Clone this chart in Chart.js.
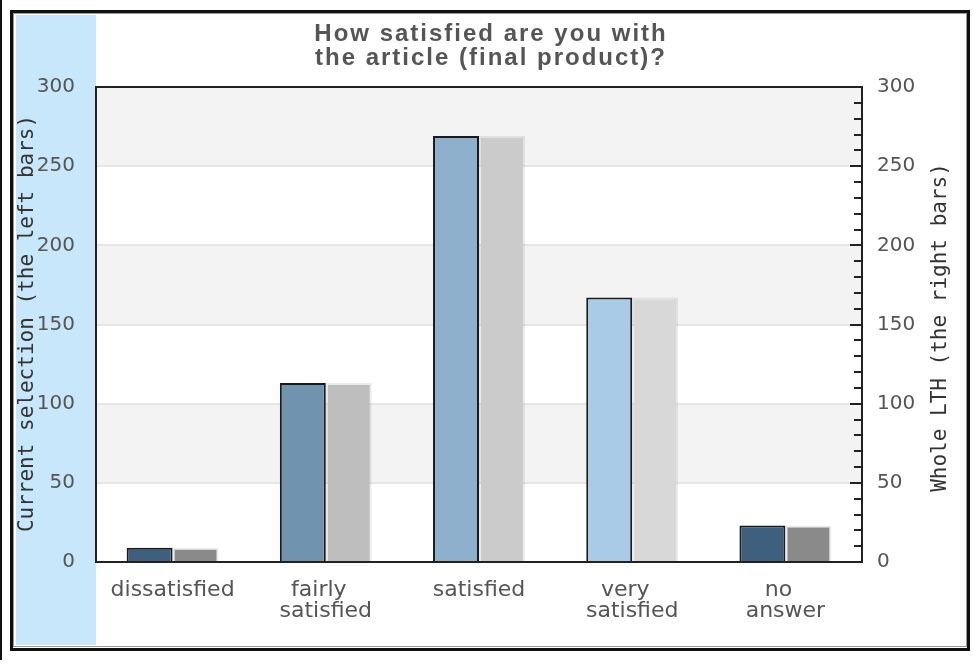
<!DOCTYPE html>
<html>
<head>
<meta charset="utf-8">
<script src="https://cdn.jsdelivr.net/npm/chart.js@4/dist/chart.umd.min.js"></script>
<style>
  html, body { margin: 0; padding: 0; background: #fff; }
  #satisfaction { position: absolute; left: 0; top: 0; }
</style>
</head>
<body>
<canvas id="satisfaction" width="973" height="666"></canvas>
<script>
const titleLines = ['How satisfied are you with', 'the article (final product)?'];
const categories = ['dissatisfied', 'fairly satisfied', 'satisfied', 'very satisfied', 'no answer'];
const currentSelection = [9, 113, 269, 167, 23];
const wholeLTH = [9, 113, 269, 167, 23];
const yTicks = [0, 50, 100, 150, 200, 250, 300];
const leftTitle = 'Current selection (the left bars)';
const rightTitle = 'Whole LTH (the right bars)';

const leftColours = ['#3f5f7e', '#7093b0', '#8eb0cc', '#a9cbe7', '#3f5f7e'];
const rightColours = ['#8a8a8a', '#bebebe', '#cbcbcb', '#d8d8d8', '#8a8a8a'];

// background strip, bands, frame, inner ticks and titles
const decor = {
  id: 'decor',
  beforeDraw(chart) {
    const { ctx, chartArea: a, scales } = chart;
    const y = scales.y;
    ctx.save();
    ctx.fillStyle = '#fff';
    ctx.fillRect(0, 0, chart.width, chart.height);
    ctx.fillStyle = '#c8e7fb';
    ctx.fillRect(16, 15, a.left - 16, 630);
    ctx.fillStyle = '#f3f3f3';
    for (let v = 50; v < 300; v += 100) {
      const top = y.getPixelForValue(v + 50);
      const bottom = y.getPixelForValue(v);
      ctx.fillRect(a.left, top, a.right - a.left, bottom - top);
    }
    ctx.restore();
  },
  afterDatasetsDraw(chart) {
    const { ctx, chartArea: a, scales } = chart;
    const y2 = scales.y2;
    ctx.save();
    // outer frame
    ctx.strokeStyle = '#111';
    ctx.lineWidth = 3;
    ctx.strokeRect(11.5, 11.5, 957, 638);
    ctx.strokeStyle = '#999';
    ctx.lineWidth = 1;
    ctx.strokeRect(13.5, 13.5, 953, 633);
    ctx.fillStyle = '#111';
    ctx.fillRect(0, 0, 2, 660);

    // plot frame
    ctx.strokeStyle = '#222';
    ctx.lineWidth = 2;
    ctx.strokeRect(a.left, a.top, a.right - a.left, a.bottom - a.top);

    // right axis ticks, pointing inwards
    ctx.beginPath();
    for (let v = 0; v <= 300; v += 10) {
      const py = Math.round(y2.getPixelForValue(v));
      const len = v % 50 === 0 ? 12 : 8;
      ctx.moveTo(a.right, py);
      ctx.lineTo(a.right - len, py);
    }
    ctx.stroke();

    // chart title
    ctx.fillStyle = '#555';
    ctx.font = 'bold 24px "Liberation Sans", Arial, sans-serif';
    ctx.letterSpacing = '2px';
    ctx.textAlign = 'center';
    ctx.textBaseline = 'alphabetic';
    ctx.fillText(titleLines[0], 491, 41);
    ctx.fillText(titleLines[1], 491, 65);
    ctx.letterSpacing = '0px';

    // axis titles
    const mid = (a.top + a.bottom) / 2;
    ctx.fillStyle = '#333';
    ctx.font = '21px "DejaVu Sans Mono", monospace';
    ctx.textBaseline = 'middle';
    ctx.save();
    ctx.translate(28, mid - 1);
    ctx.rotate(-Math.PI / 2);
    ctx.fillText(leftTitle, 0, 0);
    ctx.restore();
    ctx.save();
    ctx.translate(941, mid + 3);
    ctx.rotate(-Math.PI / 2);
    ctx.fillText(rightTitle, 0, 0);
    ctx.restore();
    ctx.restore();
  }
};

const setTicks = (scale) => {
  scale.ticks = yTicks.map(v => ({ value: v }));
};

new Chart(document.getElementById('satisfaction'), {
  type: 'bar',
  data: {
    labels: categories,
    datasets: [{
      label: 'Current selection',
      data: currentSelection,
      backgroundColor: leftColours,
      borderColor: '#1a1a1a',
      borderWidth: 2,
      yAxisID: 'y',
      categoryPercentage: 0.6,
      barPercentage: 1,
    }, {
      label: 'Whole LTH',
      data: wholeLTH,
      backgroundColor: rightColours,
      borderColor: 'rgba(0,0,0,0.08)',
      borderWidth: 2,
      yAxisID: 'y2',
      categoryPercentage: 0.6,
      barPercentage: 1,
    }],
  },
  options: {
    responsive: false,
    animation: false,
    devicePixelRatio: 1,
    layout: { padding: { top: 87, left: 0, right: 0, bottom: 0 } },
    plugins: {
      legend: { display: false },
      tooltip: { enabled: false },
      title: { display: false },
    },
    scales: {
      x: {
        grid: { display: false, drawTicks: false },
        border: { display: false },
        afterFit: (s) => { s.height = 104; },
        ticks: {
          padding: 18,
          color: '#555',
          maxRotation: 0,
          autoSkip: false,
          font: { family: '"DejaVu Sans", sans-serif', size: 22, lineHeight: 0.95 },
          callback: function (value) {
            const words = this.getLabelForValue(value).split(' ');
            return words.length > 1 ? [words[0] + '  ', words[1]] : words[0];
          },
        },
      },
      y: {
        position: 'left',
        min: 0,
        max: 300,
        afterBuildTicks: setTicks,
        afterFit: (s) => { s.width = 96; },
        grid: { color: '#e6e6e6', lineWidth: 2, drawTicks: false },
        border: { display: false },
        ticks: {
          padding: 21,
          color: '#555',
          font: { family: '"DejaVu Sans", sans-serif', size: 20 },
        },
      },
      y2: {
        position: 'right',
        min: 0,
        max: 300,
        afterBuildTicks: setTicks,
        afterFit: (s) => { s.width = 111; },
        grid: { drawOnChartArea: false, drawTicks: false },
        border: { display: false },
        ticks: {
          padding: 15,
          color: '#555',
          font: { family: '"DejaVu Sans", sans-serif', size: 20 },
        },
      },
    },
  },
  plugins: [decor],
});
</script>
</body>
</html>
